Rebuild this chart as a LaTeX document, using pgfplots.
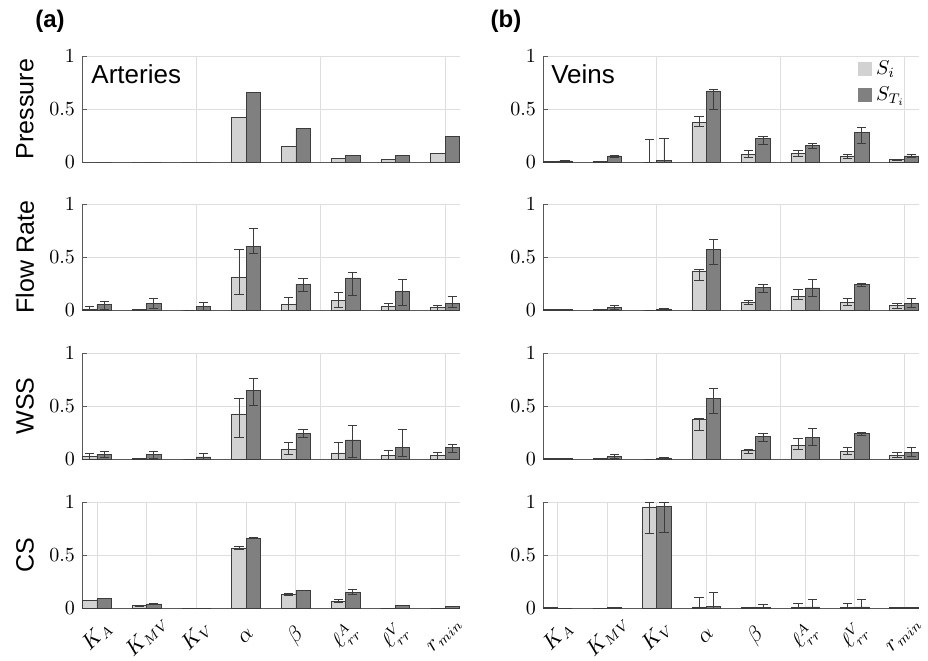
\documentclass[border=0pt]{standalone}
\usepackage[no-math]{fontspec}
\setmainfont{Liberation Sans}
\usepackage{pgfplots}
\usepackage{pgfplotstable}
\pgfplotsset{compat=1.18}
\definecolor{lightbar}{RGB}{210,210,210}
\definecolor{darkbar}{RGB}{128,128,128}
\definecolor{edgec}{RGB}{60,60,60}
\definecolor{gridc}{RGB}{222,222,222}

% ---------------- data ----------------
\pgfplotstableread{
x y
1 0
2 0
3 0
4 0.418
5 0.151
6 0.031
7 0.025
8 0.082
}\PAl
\pgfplotstableread{
x y
1 0
2 0
3 0
4 0.660
5 0.314
6 0.066
7 0.060
8 0.245
}\PAd
\pgfplotstableread{
x y ep em
1 0.003 0 0
2 0.005 0 0
3 0.000 0.210 0
4 0.377 0.057 0.044
5 0.075 0.032 0.031
6 0.082 0.025 0.025
7 0.057 0.018 0.026
8 0.022 0.005 0.005
}\PVl
\pgfplotstableread{
x y ep em
1 0.010 0.005 0.005
2 0.057 0.006 0.013
3 0.015 0.205 0.015
4 0.670 0.016 0.173
5 0.226 0.019 0.056
6 0.154 0.019 0.028
7 0.283 0.044 0.107
8 0.057 0.012 0.013
}\PVd
\pgfplotstableread{
x y ep em
1 0.010 0.025 0.010
2 0.005 0.002 0.002
3 0.000 0 0
4 0.311 0.259 0.163
5 0.053 0.067 0.053
6 0.094 0.073 0.072
7 0.035 0.031 0.035
8 0.022 0.022 0.022
}\FAl
\pgfplotstableread{
x y ep em
1 0.050 0.035 0.040
2 0.060 0.050 0.044
3 0.030 0.042 0.030
4 0.600 0.170 0.070
5 0.242 0.058 0.062
6 0.302 0.053 0.162
7 0.176 0.114 0.129
8 0.066 0.064 0.044
}\FAd
\pgfplotstableread{
x y ep em
1 0.002 0 0
2 0.003 0 0
3 0.000 0 0
4 0.368 0.012 0.088
5 0.075 0.019 0.022
6 0.132 0.066 0.035
7 0.075 0.035 0.034
8 0.041 0.019 0.022
}\FVl
\pgfplotstableread{
x y ep em
1 0.005 0.002 0.002
2 0.028 0.019 0.018
3 0.005 0.010 0.005
4 0.570 0.094 0.140
5 0.214 0.031 0.047
6 0.208 0.084 0.079
7 0.240 0.010 0.020
8 0.066 0.044 0.038
}\FVd
\pgfplotstableread{
x y ep em
1 0.025 0.032 0.025
2 0.003 0 0
3 0.000 0 0
4 0.426 0.142 0.226
5 0.091 0.069 0.051
6 0.057 0.101 0.057
7 0.035 0.050 0.035
8 0.032 0.028 0.032
}\WAl
\pgfplotstableread{
x y ep em
1 0.047 0.029 0.028
2 0.041 0.032 0.031
3 0.019 0.031 0.019
4 0.647 0.110 0.142
5 0.243 0.041 0.035
6 0.180 0.135 0.167
7 0.110 0.168 0.085
8 0.110 0.026 0.047
}\WAd
\pgfplotstableread{
x y ep em
1 0.002 0 0
2 0.003 0 0
3 0.000 0 0
4 0.372 0.008 0.102
5 0.079 0.016 0.029
6 0.132 0.064 0.037
7 0.073 0.034 0.032
8 0.038 0.025 0.022
}\WVl
\pgfplotstableread{
x y ep em
1 0.005 0.002 0.002
2 0.025 0.016 0.015
3 0.005 0.008 0.005
4 0.571 0.095 0.145
5 0.211 0.035 0.047
6 0.205 0.088 0.076
7 0.240 0.012 0.016
8 0.063 0.044 0.038
}\WVd
\pgfplotstableread{
x y ep em
1 0.069 0 0
2 0.022 0.003 0.003
3 0.000 0 0
4 0.567 0.010 0.012
5 0.129 0.006 0.006
6 0.063 0.015 0.013
7 0.000 0 0
8 0.000 0 0
}\CAl
\pgfplotstableread{
x y ep em
1 0.088 0 0
2 0.038 0.003 0.003
3 0.000 0 0
4 0.658 0.007 0.006
5 0.166 0.002 0.002
6 0.144 0.028 0.015
7 0.022 0 0
8 0.016 0 0
}\CAd
\pgfplotstableread{
x y ep em
1 0.002 0 0
2 0.000 0 0
3 0.953 0.047 0.251
4 0.010 0.087 0.010
5 0.003 0 0
6 0.005 0.042 0.005
7 0.005 0.036 0.005
8 0.002 0 0
}\CVl
\pgfplotstableread{
x y ep em
1 0.000 0 0
2 0.003 0.005 0.003
3 0.956 0.044 0.238
4 0.015 0.135 0.015
5 0.005 0.033 0.005
6 0.010 0.071 0.010
7 0.010 0.071 0.010
8 0.003 0.007 0.003
}\CVd

% ---------------- styles ----------------
\pgfplotsset{
 base/.style={scale only axis, height=53pt, xmin=0.7, xmax=8.3, ymin=0, ymax=1,
  axis x line*=bottom, axis y line*=left,
  axis line style={draw=black!65, line width=0.4pt},
  ytick={0,0.5,1}, yticklabel style={font=\fontsize{10}{11}\selectfont},
  tick align=inside, major tick length=2.5pt,
  xtick style={draw=none}, ytick style={draw=black!65, line width=0.4pt},
  grid=major, major grid style={draw=gridc, line width=0.4pt},
  clip=false,
  legend image code/.code={\fill[##1, draw=none] (0pt,-3.5pt) rectangle (7pt,3.5pt);},
 },
 toprow/.style={xtick={3,5.5,8}, xticklabels={}},
 botrow/.style={xtick={1,2,3,4,5,6,7,8},
  xticklabels={$K_A$,$K_{MV}$,$K_V$,$\alpha$,$\beta$,$\ell_{rr}^A$,$\ell_{rr}^V$,$r_{min}$},
  xticklabel style={yshift=-14pt, rotate=45, anchor=center, font=\fontsize{10.5}{12}\selectfont}},
 leftc/.style={width=189pt, ylabel style={at={(axis description cs:-0.151,0.5)}, anchor=center, font=\fontsize{12.5}{14}\selectfont}},
 rightc/.style={width=188pt},
 lb/.style={ybar, bar width=0.29, bar shift=0, fill=lightbar, draw=edgec, line width=0.35pt, forget plot},
 db/.style={ybar, bar width=0.29, bar shift=0, fill=darkbar, draw=edgec, line width=0.35pt, forget plot},
 eb/.style={error bars/y dir=both, error bars/y explicit,
  error bars/error bar style={draw=edgec, line width=0.4pt},
  error bars/error mark options={draw=edgec, line width=0.4pt, mark size=2.3pt, rotate=90}},
}
\newcommand{\barsne}[2]{%
 \addplot[lb] table[x expr=\thisrow{x}-0.145,y=y]{#1};
 \addplot[db] table[x expr=\thisrow{x}+0.145,y=y]{#2};
}
\newcommand{\barse}[2]{%
 \addplot[lb, eb] table[x expr=\thisrow{x}-0.145,y=y,y error plus=ep,y error minus=em]{#1};
 \addplot[db, eb] table[x expr=\thisrow{x}+0.145,y=y,y error plus=ep,y error minus=em]{#2};
}

\begin{document}
\begin{tikzpicture}
\path[use as bounding box] (0,0) rectangle (464pt,-330pt);
\node[font=\bfseries\fontsize{12}{14}\selectfont, inner sep=0pt] at (25pt,-10.5pt) {(a)};
\node[font=\bfseries\fontsize{12}{14}\selectfont, inner sep=0pt] at (253pt,-10.5pt) {(b)};

% Row 1
\begin{axis}[base, toprow, leftc, at={(41pt,-81pt)}, anchor=south west, ylabel={Pressure}]
 \barsne{\PAl}{\PAd}
 \node[anchor=west, inner sep=0pt, font=\fontsize{13}{15}\selectfont] at (axis description cs:0.024,0.83) {Arteries};
\end{axis}
\begin{axis}[base, toprow, rightc, at={(271.5pt,-81pt)}, anchor=south west,
  legend style={draw=none, fill=none, at={(axis description cs:0.975,1.0)}, anchor=north east,
  font=\fontsize{10}{11}\selectfont, inner sep=0pt, row sep=1pt}, legend cell align=left]
 \barse{\PVl}{\PVd}
 \addlegendimage{fill=lightbar}\addlegendentry{$S_i$}
 \addlegendimage{fill=darkbar}\addlegendentry{$S_{T_i}$}
 \node[anchor=west, inner sep=0pt, font=\fontsize{13}{15}\selectfont] at (axis description cs:0.021,0.83) {Veins};
\end{axis}

% Row 2
\begin{axis}[base, toprow, leftc, at={(41pt,-155pt)}, anchor=south west, ylabel={Flow Rate}]
 \barse{\FAl}{\FAd}
\end{axis}
\begin{axis}[base, toprow, rightc, at={(271.5pt,-155pt)}, anchor=south west]
 \barse{\FVl}{\FVd}
\end{axis}

% Row 3
\begin{axis}[base, toprow, leftc, at={(41pt,-229.5pt)}, anchor=south west, ylabel={WSS}]
 \barse{\WAl}{\WAd}
\end{axis}
\begin{axis}[base, toprow, rightc, at={(271.5pt,-229.5pt)}, anchor=south west]
 \barse{\WVl}{\WVd}
\end{axis}

% Row 4
\begin{axis}[base, botrow, leftc, at={(41pt,-304pt)}, anchor=south west, ylabel={CS}]
 \barse{\CAl}{\CAd}
\end{axis}
\begin{axis}[base, botrow, rightc, at={(271.5pt,-304pt)}, anchor=south west]
 \barse{\CVl}{\CVd}
\end{axis}
\end{tikzpicture}
\end{document}
